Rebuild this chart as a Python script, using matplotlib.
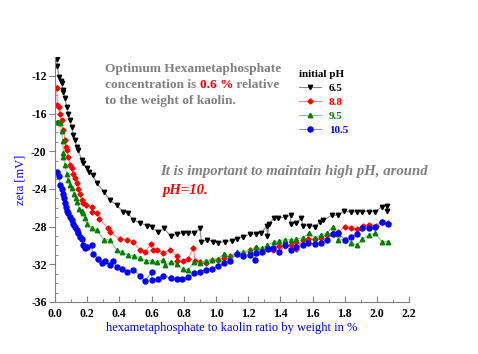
import matplotlib
matplotlib.use("Agg")
import matplotlib.pyplot as plt
from matplotlib.ticker import MultipleLocator

plt.rcParams['font.family'] = 'Liberation Serif'
plt.rcParams['font.weight'] = 'bold'

# initial pH 6.5
x65 = [0.010, 0.015, 0.025, 0.037, 0.045, 0.048, 0.052, 0.062, 0.073, 0.083, 0.093, 0.104,
       0.114, 0.124, 0.135, 0.145, 0.166, 0.176, 0.197, 0.213, 0.234, 0.259, 0.304, 0.342,
       0.383, 0.420, 0.455, 0.486, 0.528, 0.570, 0.600, 0.642, 0.677, 0.719, 0.756, 0.797,
       0.828, 0.863, 0.900, 0.910, 0.946, 0.983, 1.014, 1.056, 1.097, 1.132, 1.170, 1.210,
       1.250, 1.280, 1.315, 1.320, 1.330, 1.360, 1.387, 1.430, 1.464, 1.464, 1.500, 1.530,
       1.540, 1.580, 1.615, 1.646, 1.667, 1.720, 1.760, 1.795, 1.837, 1.874, 1.910, 1.950,
       1.990, 2.030, 2.060, 2.060]
y65 = [-10.2, -11.0, -12.1, -12.6, -12.8, -13.5, -13.7, -14.4, -15.3, -16.0, -16.7, -17.4,
       -18.3, -18.8, -19.5, -19.9, -20.9, -21.3, -21.8, -22.2, -22.5, -23.4, -24.3, -25.2,
       -25.7, -26.4, -26.6, -27.3, -27.6, -27.9, -28.0, -28.6, -28.2, -29.0, -28.8, -28.7,
       -28.7, -28.7, -28.2, -29.6, -29.4, -29.6, -29.7, -29.6, -29.5, -29.3, -29.1, -28.8,
       -28.8, -28.7, -27.9, -29.0, -27.7, -27.1, -27.1, -27.0, -26.8, -27.7, -27.6, -27.1,
       -27.9, -27.9, -28.0, -27.5, -27.3, -26.8, -26.8, -26.3, -26.5, -26.4, -26.4, -26.4,
       -26.4, -25.9, -25.8, -26.3]

# initial pH 8.8
x88 = [0.010, 0.015, 0.023, 0.031, 0.042, 0.052, 0.062, 0.068, 0.073, 0.083, 0.093, 0.104,
       0.114, 0.124, 0.135, 0.145, 0.155, 0.166, 0.176, 0.193, 0.228, 0.228, 0.259, 0.275,
       0.331, 0.342, 0.404, 0.449, 0.486, 0.528, 0.559, 0.594, 0.610, 0.635, 0.673, 0.714,
       0.756, 0.756, 0.793, 0.828, 0.859, 0.870, 0.900, 0.938, 0.973, 1.014, 1.050, 1.087,
       1.129, 1.170, 1.210, 1.250, 1.284, 1.325, 1.356, 1.393, 1.430, 1.464, 1.500, 1.500,
       1.540, 1.573, 1.615, 1.650, 1.690, 1.725, 1.760, 1.800, 1.837, 1.874, 1.915, 1.952,
       1.994, 2.030, 2.070]
y88 = [-13.3, -15.1, -15.3, -16.0, -16.7, -17.7, -18.8, -19.5, -19.9, -20.6, -21.5, -21.8,
       -22.4, -22.8, -23.4, -24.0, -24.5, -25.2, -25.5, -25.7, -25.9, -26.4, -26.6, -27.2,
       -28.2, -28.6, -29.3, -29.4, -29.6, -30.5, -30.7, -29.9, -30.5, -30.5, -30.8, -30.5,
       -31.1, -31.6, -31.6, -31.4, -30.3, -31.7, -31.8, -31.9, -31.5, -31.5, -31.3, -31.1,
       -30.9, -30.9, -30.5, -30.3, -30.5, -30.3, -30.5, -30.1, -30.1, -30.0, -29.6, -30.4,
       -29.4, -29.3, -29.3, -29.2, -28.9, -28.7, -28.6, -28.0, -28.1, -28.3, -27.9, -27.8,
       -27.9, -27.5, -27.6]

# initial pH 9.5
x95 = [0.010, 0.020, 0.031, 0.042, 0.048, 0.052, 0.052, 0.062, 0.073, 0.083, 0.093, 0.104,
       0.118, 0.130, 0.138, 0.151, 0.166, 0.176, 0.186, 0.197, 0.228, 0.263, 0.304, 0.342,
       0.383, 0.414, 0.455, 0.490, 0.528, 0.563, 0.600, 0.631, 0.673, 0.684, 0.719, 0.756,
       0.793, 0.828, 0.863, 0.900, 0.938, 0.973, 1.014, 1.050, 1.087, 1.129, 1.170, 1.210,
       1.250, 1.284, 1.315, 1.360, 1.393, 1.430, 1.464, 1.500, 1.540, 1.580, 1.615, 1.650,
       1.690, 1.725, 1.760, 1.760, 1.800, 1.837, 1.874, 1.910, 1.950, 1.990, 2.030, 2.066]
y95 = [-16.9, -16.9, -17.0, -17.9, -18.9, -20.2, -20.6, -21.5, -22.4, -23.1, -23.6, -23.9,
       -24.5, -25.0, -25.4, -26.1, -26.3, -26.6, -27.1, -27.7, -28.2, -28.4, -29.4, -29.4,
       -30.5, -30.7, -31.0, -31.1, -31.3, -31.6, -31.6, -31.8, -31.5, -32.1, -31.8, -32.0,
       -32.5, -32.6, -31.8, -31.9, -31.6, -31.5, -31.4, -30.9, -31.1, -30.7, -30.7, -30.5,
       -30.2, -30.3, -30.0, -29.6, -29.5, -29.4, -29.4, -29.3, -29.2, -28.7, -29.2, -28.9,
       -28.7, -28.0, -28.8, -29.4, -29.4, -29.7, -30.0, -29.3, -28.9, -28.7, -29.6, -29.6]

# initial pH 10.5
x105 = [0.010, 0.027, 0.031, 0.042, 0.048, 0.056, 0.062, 0.068, 0.073, 0.083, 0.093, 0.104,
        0.114, 0.124, 0.135, 0.145, 0.155, 0.166, 0.176, 0.186, 0.197, 0.228, 0.234, 0.269,
        0.290, 0.310, 0.342, 0.362, 0.383, 0.414, 0.449, 0.486, 0.528, 0.559, 0.600, 0.600,
        0.642, 0.673, 0.719, 0.756, 0.790, 0.828, 0.863, 0.900, 0.938, 0.973, 1.014, 1.050,
        1.087, 1.129, 1.170, 1.210, 1.242, 1.250, 1.284, 1.325, 1.356, 1.393, 1.430, 1.464,
        1.500, 1.540, 1.573, 1.615, 1.650, 1.690, 1.725, 1.760, 1.800, 1.837, 1.874, 1.910,
        1.950, 1.990, 2.030, 2.066]
y105 = [-22.2, -22.6, -23.6, -24.0, -24.5, -25.0, -25.5, -25.9, -26.3, -26.6, -27.0, -27.3,
        -27.7, -28.0, -28.4, -28.7, -29.1, -29.3, -30.0, -30.3, -30.2, -30.0, -30.9, -31.4,
        -31.9, -31.6, -32.1, -31.6, -32.3, -32.5, -32.8, -32.6, -33.2, -33.8, -32.8, -33.7,
        -33.6, -33.2, -33.5, -33.6, -33.6, -33.4, -32.9, -32.8, -32.6, -32.5, -32.2, -31.9,
        -31.6, -30.9, -31.1, -31.0, -31.5, -30.8, -30.7, -30.4, -30.3, -30.7, -30.0, -30.5,
        -30.2, -30.0, -29.7, -29.9, -29.7, -29.4, -28.8, -28.7, -29.4, -29.1, -28.8, -28.2,
        -28.2, -28.0, -27.5, -27.7]

series = [
    ("6.5", x65, y65, "v", "black", "#8c8c8c"),
    ("8.8", x88, y88, "D", "red", "#ff8c8c"),
    ("9.5", x95, y95, "^", "green", "#8cc88c"),
    ("10.5", x105, y105, "o", "blue", "#8c8cff"),
]
marker_sizes = {"v": 3.2, "D": 2.6, "^": 3.2, "o": 3.6}

fig = plt.figure(figsize=(4.78, 3.54), dpi=100)
ax = fig.add_axes([0.115, 0.147, 0.741, 0.692])

for label, xs, ys, mk, col, lcol in series:
    ax.plot(xs, ys, color=lcol, linewidth=0.8, marker=mk, markersize=marker_sizes[mk],
            markerfacecolor=col, markeredgecolor=col, label=label)

ax.set_xlim(0, 2.2)
ax.set_ylim(-36, -10)
ax.xaxis.set_major_locator(MultipleLocator(0.2))
ax.xaxis.set_minor_locator(MultipleLocator(0.1))
ax.yaxis.set_major_locator(MultipleLocator(4))
ax.yaxis.set_minor_locator(MultipleLocator(1))
ax.xaxis.set_major_formatter(plt.FuncFormatter(lambda v, p: f"{v:.1f}"))
ax.yaxis.set_major_formatter(plt.FuncFormatter(lambda v, p: f"{v:.0f}"))

for s in ["top", "right"]:
    ax.spines[s].set_visible(False)
for s in ["left", "bottom"]:
    ax.spines[s].set_color("#808080")
ax.tick_params(axis="x", which="both", direction="in", color="#808080")
ax.tick_params(axis="x", which="major", length=4, labelsize=8.5, pad=4)
ax.tick_params(axis="x", which="minor", length=2.5)
ax.tick_params(axis="y", which="major", direction="out", length=4, labelsize=8.5,
               color="#808080", pad=2)
ax.tick_params(axis="y", which="minor", direction="in", length=2.5, color="#808080")

ax.set_xlabel("hexametaphosphate to kaolin ratio by weight in %", color="blue",
              fontsize=9, labelpad=2)
ax.set_ylabel("zeta [mV]", color="blue", fontsize=9, labelpad=3)

leg = ax.legend(loc="upper left", bbox_to_anchor=(299 / 478, 1 - 70 / 354),
                bbox_transform=fig.transFigure, frameon=False, title="initial pH",
                fontsize=8, title_fontproperties={"weight": "bold", "size": 8},
                labelcolor=["black", "red", "green", "blue"], handlelength=2.0,
                handletextpad=0.7, labelspacing=0.38, borderpad=0, borderaxespad=0,
                alignment="left", numpoints=1)

gray = "#808080"
renderer = fig.canvas.get_renderer()


def text_row(x, y, parts, **kw):
    for s, c in parts:
        t = fig.text(x, y, s, color=c, **kw)
        bb = t.get_window_extent(renderer)
        x += bb.width / fig.bbox.width


W, H = 478, 354
kw1 = dict(fontsize=9.6, fontweight="bold", va="baseline")
text_row(105 / W, 1 - 72 / H, [("Optimum Hexametaphosphate", gray)], **kw1)
text_row(105 / W, 1 - 88 / H, [("concentration is ", gray), ("0.6 %", "red"),
                               (" relative", gray)], **kw1)
text_row(105 / W, 1 - 104 / H, [("to the weight of kaolin.", gray)], **kw1)

kw2 = dict(fontsize=10.6, fontweight="bold", fontstyle="italic", va="baseline")
text_row(160 / W, 1 - 175 / H, [("It is important to maintain high pH, around", gray)], **kw2)
text_row(162 / W, 1 - 194 / H, [("pH=10.", "red")], **kw2)

fig.savefig("out.png", dpi=100)
